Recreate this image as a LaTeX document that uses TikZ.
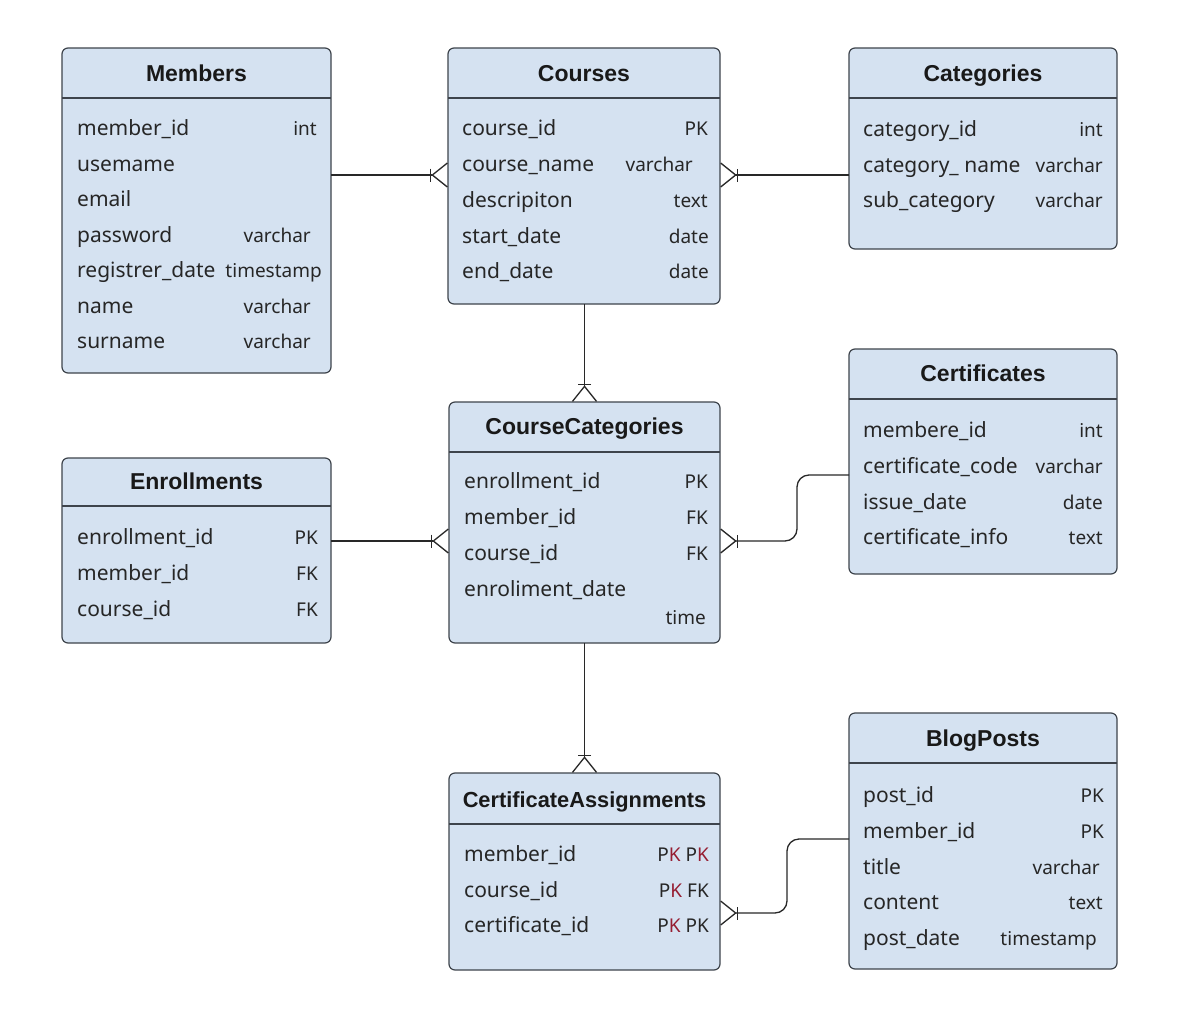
\documentclass[tikz,border=0pt]{standalone}
\usepackage{fontspec}
\setmainfont{Noto Sans}
\newfontfamily\titlefont{Liberation Sans}
\usetikzlibrary{arrows.meta, calc}

\definecolor{boxfill}{RGB}{213,226,241}
\definecolor{boxline}{RGB}{62,68,76}
\definecolor{linkline}{RGB}{40,40,40}
\definecolor{keyred}{RGB}{150,30,50}

\tikzset{
  tablebox/.style={draw=boxline, fill=boxfill, line width=1.2pt, rounded corners=6pt,
    inner sep=0pt, outer sep=0pt, anchor=north west},
  titletext/.style={font=\titlefont\bfseries\fontsize{23}{26}\selectfont, text=black!90,
    inner sep=0pt, anchor=base},
  fieldtext/.style={font=\fontsize{21}{24}\selectfont, text=black!85, inner sep=0pt,
    anchor=mid west, yshift=-5pt},
  typetext/.style={font=\fontsize{19}{22}\selectfont, text=black!85, inner sep=0pt,
    anchor=mid east, yshift=-5pt},
  headline/.style={draw=boxline, line width=1.2pt},
  rel/.style={draw=linkline, line width=1.3pt, rounded corners=12pt,
    -{Bar[width=13pt] Straight Barb[reversed,length=15pt,width=24pt]}},
}

\begin{document}
\begin{tikzpicture}[x=1pt, y=-1pt]

\def\headh{50}

% page
\fill[white] (0,0) rectangle (1179,1028);
\useasboundingbox (0,0) rectangle (1179,1028);

% Members
\node[tablebox, minimum width=269pt, minimum height=325pt] (members) at (62,48) {};
\node[titletext] (members-title) at ([yshift=-33pt]members.north) {Members};
\draw[headline] (members.west |- 0,48+\headh) -- (members.east |- 0,48+\headh);
\foreach \fname/\ftype/\tx [count=\k from 0] in {member\_id/int/317, usemame//317, email//317,
    password/varchar/311, registrer\_date/timestamp/322, name/varchar/311, surname/varchar/311} {
  \node[fieldtext] at (77,128+\k*35.5) {\fname};
  \node[typetext] at (\tx,128+\k*35.5) {\ftype};
}

% Courses
\node[tablebox, minimum width=272pt, minimum height=256pt] (courses) at (448,48) {};
\node[titletext] (courses-title) at ([yshift=-33pt]courses.north) {Courses};
\draw[headline] (courses.west |- 0,48+\headh) -- (courses.east |- 0,48+\headh);
\foreach \fname/\ftype/\tx [count=\k from 0] in {course\_id/PK/708, course\_name/varchar/693,
    descripiton/text/708, start\_date/date/709, end\_date/date/709} {
  \node[fieldtext] at (462,128+\k*35.8) {\fname};
  \node[typetext] at (\tx,128+\k*35.8) {\ftype};
}

% Categories
\node[tablebox, minimum width=268pt, minimum height=201pt] (categories) at (849,48) {};
\node[titletext] (categories-title) at ([yshift=-33pt]categories.north) {Categories};
\draw[headline] (categories.west |- 0,48+\headh) -- (categories.east |- 0,48+\headh);
\foreach \fname/\ftype [count=\k from 0] in {category\_id/int, category\_ name/varchar,
    sub\_category/varchar} {
  \node[fieldtext] at (863,129+\k*35.5) {\fname};
  \node[typetext] at (1103,129+\k*35.5) {\ftype};
}

% Certificates
\node[tablebox, minimum width=268pt, minimum height=225pt] (certificates) at (849,349) {};
\node[titletext] (certificates-title) at ([yshift=-32pt]certificates.north) {Certificates};
\draw[headline] (certificates.west |- 0,349+\headh) -- (certificates.east |- 0,349+\headh);
\foreach \fname/\ftype [count=\k from 0] in {membere\_id/int, certificate\_code/varchar,
    issue\_date/date, certificate\_info/text} {
  \node[fieldtext] at (863,430+\k*35.7) {\fname};
  \node[typetext] at (1103,430+\k*35.7) {\ftype};
}

% CourseCategories
\node[tablebox, minimum width=271pt, minimum height=241pt] (coursecat) at (449,402) {};
\node[titletext] (coursecat-title) at ([yshift=-32pt]coursecat.north) {CourseCategories};
\draw[headline] (coursecat.west |- 0,402+\headh) -- (coursecat.east |- 0,402+\headh);
\foreach \fname/\ftype [count=\k from 0] in {enrollment\_id/PK, member\_id/FK, course\_id/FK,
    enroliment\_date/} {
  \node[fieldtext] at (464,481+\k*36) {\fname};
  \node[typetext] at (708,481+\k*36) {\ftype};
}
\node[typetext] (coursecat-time) at (706,617) {time};

% Enrollments
\node[tablebox, minimum width=269pt, minimum height=185pt] (enroll) at (62,458) {};
\node[titletext] (enroll-title) at ([yshift=-31pt]enroll.north) {Enrollments};
\draw[headline] (enroll.west |- 0,458+48) -- (enroll.east |- 0,458+48);
\foreach \fname/\ftype [count=\k from 0] in {enrollment\_id/PK, member\_id/FK, course\_id/FK} {
  \node[fieldtext] at (77,537+\k*36) {\fname};
  \node[typetext] at (318,537+\k*36) {\ftype};
}

% CertificateAssignments
\node[tablebox, minimum width=271pt, minimum height=197pt] (certassign) at (449,773) {};
\node[titletext, font=\titlefont\bfseries\fontsize{21.8}{25}\selectfont] (certassign-title)
  at ([yshift=-34pt]certassign.north) {CertificateAssignments};
\draw[headline] (certassign.west |- 0,773+51) -- (certassign.east |- 0,773+51);
\foreach \fname/\ftype [count=\k from 0] in {
    member\_id/{P\textcolor{keyred}{K} P\textcolor{keyred}{K}},
    course\_id/{P\textcolor{keyred}{K} FK},
    certificate\_id/{P\textcolor{keyred}{K} PK}} {
  \node[fieldtext] at (464,854+\k*35.5) {\fname};
  \node[typetext] at (709,854+\k*35.5) {\ftype};
}

% BlogPosts
\node[tablebox, minimum width=268pt, minimum height=256pt] (blog) at (849,713) {};
\node[titletext] (blog-title) at ([yshift=-33pt]blog.north) {BlogPosts};
\draw[headline] (blog.west |- 0,713+\headh) -- (blog.east |- 0,713+\headh);
\foreach \fname/\ftype/\tx [count=\k from 0] in {post\_id/PK/1104, member\_id/PK/1104,
    title/varchar/1100, content/text/1103, post\_date/timestamp/1097} {
  \node[fieldtext] at (863,795+\k*35.7) {\fname};
  \node[typetext] at (\tx,795+\k*35.7) {\ftype};
}

% relations
\draw[rel] (members.east |- 0,175) -- (courses.west |- 0,175);
\draw[rel] (categories.west |- 0,175) -- (courses.east |- 0,175);
\draw[rel] (coursecat.north |- courses.south) -- (coursecat.north);
\draw[rel] (enroll.east |- 0,541) -- (coursecat.west |- 0,541);
\draw[rel] (certificates.west |- 0,475) -- (797,475) -- (797,541) -- (coursecat.east |- 0,541);
\draw[rel] (coursecat.south) -- (certassign.north);
\draw[rel] (blog.west |- 0,839) -- (787,839) -- (787,913) -- (certassign.east |- 0,913);

\end{tikzpicture}
\end{document}
